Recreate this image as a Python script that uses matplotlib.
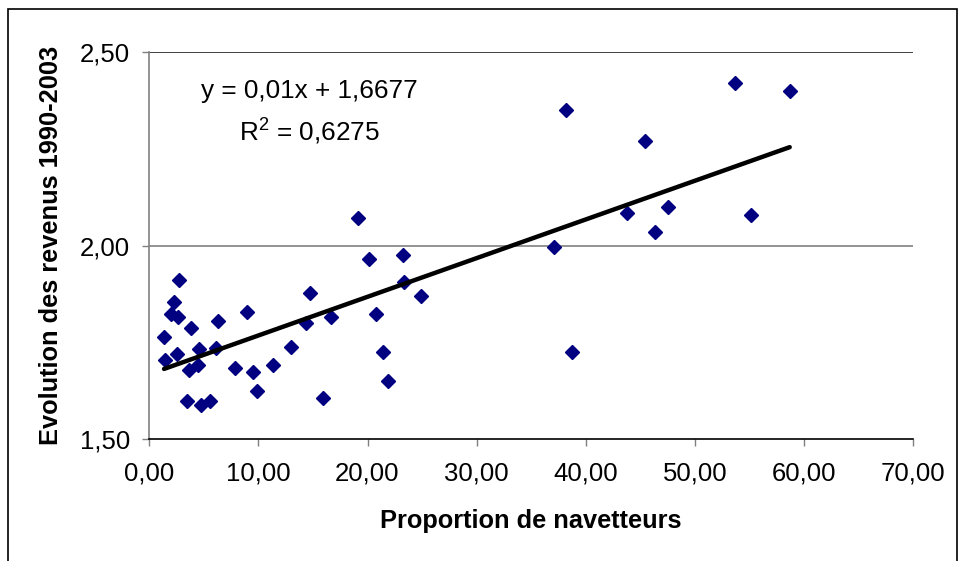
import matplotlib
matplotlib.use('Agg')
import matplotlib.pyplot as plt
from matplotlib.patches import Rectangle

plt.rcParams['font.family'] = ['Liberation Sans', 'DejaVu Sans']
plt.rcParams['mathtext.fontset'] = 'custom'
plt.rcParams['mathtext.rm'] = 'Liberation Sans'

# proportion de navetteurs (%)
navetteurs = [2.72, 2.26, 1.96, 2.66, 1.35, 3.79, 6.27, 8.98, 1.47, 2.57,
              4.56, 6.11, 3.67, 4.44, 7.83, 9.53, 9.90, 11.37, 12.96, 14.34,
              14.73, 16.63, 15.92, 3.43, 4.77, 5.56, 19.13, 20.11, 23.23, 23.35,
              24.93, 20.75, 21.45, 21.91, 37.09, 38.72, 43.76, 53.68, 58.70, 45.46,
              47.57, 46.35, 55.15, 38.17]
# evolution des revenus 1990-2003
revenus = [1.911, 1.853, 1.823, 1.815, 1.763, 1.786, 1.806, 1.829, 1.703, 1.719,
           1.732, 1.735, 1.679, 1.691, 1.683, 1.672, 1.624, 1.692, 1.737, 1.801,
           1.877, 1.816, 1.605, 1.599, 1.587, 1.598, 2.072, 1.966, 1.975, 1.907,
           1.869, 1.823, 1.726, 1.651, 1.997, 1.726, 2.084, 2.420, 2.401, 2.271,
           2.101, 2.036, 2.080, 2.351]

slope, intercept = 0.01, 1.6677
r2 = 0.6275

x_ticks = [0, 10, 20, 30, 40, 50, 60, 70]
y_ticks = [1.5, 2.0, 2.5]


def fr(v):
    return '{:.2f}'.format(v).replace('.', ',')


fig = plt.figure(figsize=(9.65, 5.61), dpi=100)
ax = fig.add_axes([149.3 / 965, 1 - 439 / 561, (913 - 149.3) / 965, (439 - 52.3) / 561])

# gridlines (Excel style)
ax.axhline(2.0, color='#808080', lw=1.2, zorder=1)
ax.axhline(2.5, color='#202020', lw=1.2, zorder=1)

ax.plot(navetteurs, revenus, linestyle='none', marker='D', ms=7.6,
        color='#000080', mec='#000080', zorder=3)

x0, x1 = min(navetteurs), max(navetteurs)
ax.plot([x0, x1], [slope * x0 + intercept, slope * x1 + intercept],
        color='black', lw=3.2, solid_capstyle='round', zorder=4)

ax.set_xlim(0, 70)
ax.set_ylim(1.5, 2.5)
ax.set_xticks(x_ticks)
ax.set_xticklabels([fr(v) for v in x_ticks])
ax.set_yticks(y_ticks)
ax.set_yticklabels([fr(v) for v in y_ticks])

for s in ['top', 'right']:
    ax.spines[s].set_visible(False)
ax.spines['left'].set_color('#808080')
ax.spines['bottom'].set_color('black')
ax.spines['left'].set_linewidth(1.2)
ax.spines['bottom'].set_linewidth(1.2)
ax.tick_params(axis='both', direction='out', length=5, width=1, color='#808080',
               labelsize=18.5, pad=9)
ax.tick_params(axis='x', pad=11)

ax.set_xlabel('Proportion de navetteurs', fontsize=18.3, fontweight='bold', labelpad=17)
ax.set_ylabel('Evolution des revenus 1990-2003', fontsize=18.3, fontweight='bold', labelpad=12)

eq = 'y = {}x + {}'.format(str(slope).replace('.', ','), str(intercept).replace('.', ','))
ax.text(14.7, 2.400, eq, fontsize=18.8, ha='center', va='center')
ax.text(14.7, 2.298, 'R$^{\\mathrm{2}}$ = ' + str(r2).replace('.', ','), fontsize=18.8,
        ha='center', va='center')

fig.patches.append(Rectangle((8 / 965, -0.1), (957 - 8) / 965, 1.1 - 9 / 561,
                             transform=fig.transFigure, fill=False,
                             edgecolor='black', lw=1.2))

fig.savefig('out.png', dpi=100)
